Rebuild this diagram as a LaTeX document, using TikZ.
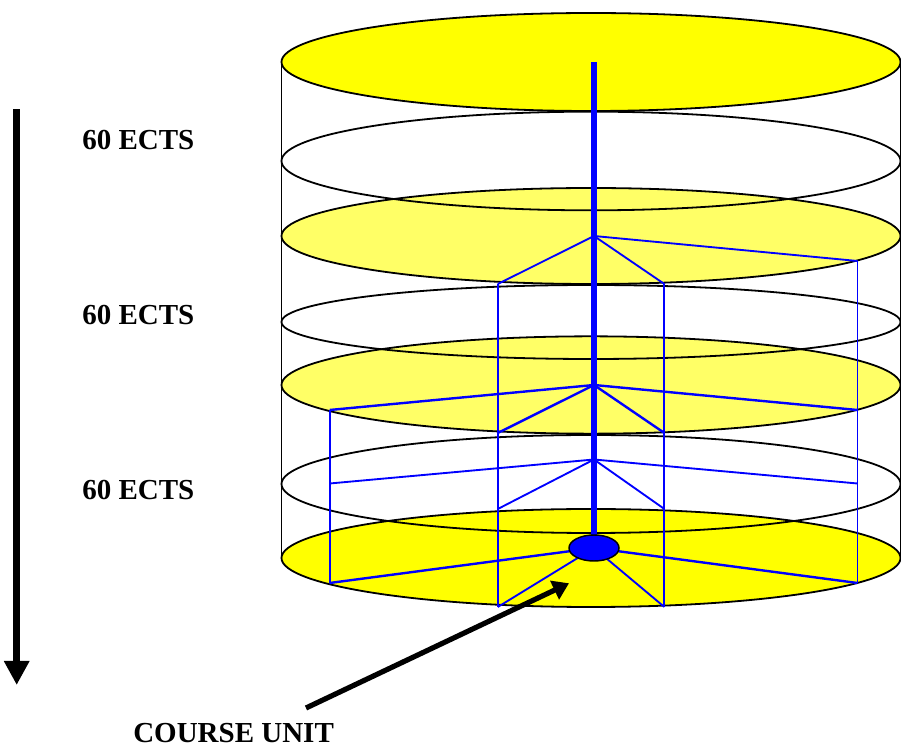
\documentclass[tikz,border=0pt]{standalone}
\usepackage{fontspec}
\setmainfont{Liberation Serif}
\usetikzlibrary{arrows.meta}
\definecolor{yel}{RGB}{255,255,0}
\definecolor{lyel}{RGB}{255,255,102}
\definecolor{pblue}{RGB}{0,0,255}
\tikzset{
  disc/.style={draw=black, line width=1.35pt},
  bthin/.style={draw=pblue, line width=1.4pt},
  bmid/.style={draw=pblue, line width=1.8pt},
  lbl/.style={anchor=base west, inner sep=0pt, text depth=0pt, font=\bfseries\fontsize{21.75}{24}\selectfont},
}
\begin{document}
\begin{tikzpicture}[x=0.75pt,y=-0.75pt]
\useasboundingbox (0,0) rectangle (901,748);
\clip (0,0) rectangle (901,748);
% fills
\fill[yel]  (591,62)  ellipse [x radius=232.125pt, y radius=36.75pt];
\fill[white](591,161) ellipse [x radius=232.125pt, y radius=37pt];
\fill[lyel] (591,236) ellipse [x radius=232.125pt, y radius=36pt];
\fill[white](591,322) ellipse [x radius=232.125pt, y radius=27.75pt];
\fill[lyel] (591,385) ellipse [x radius=232.125pt, y radius=36.5pt];
\fill[white](591,484) ellipse [x radius=232.125pt, y radius=36.75pt];
\fill[yel]  (591,558) ellipse [x radius=232.125pt, y radius=36.75pt];
% cylinder sides
\draw[disc] (281.5,62) -- (281.5,558);
\draw[disc] (900.5,62) -- (900.5,558);
% outlines
\draw[disc] (591,62)  ellipse [x radius=232.125pt, y radius=36.75pt];
\draw[disc] (591,161) ellipse [x radius=232.125pt, y radius=37pt];
\draw[disc] (591,236) ellipse [x radius=232.125pt, y radius=36pt];
\draw[disc] (591,322) ellipse [x radius=232.125pt, y radius=27.75pt];
\draw[disc] (591,385) ellipse [x radius=232.125pt, y radius=36.5pt];
\draw[disc] (591,484) ellipse [x radius=232.125pt, y radius=36.75pt];
\draw[disc] (591,558) ellipse [x radius=232.125pt, y radius=36.75pt];
% blue structure coordinates
\coordinate (A3) at (594,236);
\coordinate (A5) at (594,385);
\coordinate (A6) at (594,459.5);
\coordinate (A7) at (594,548);
\coordinate (IL3) at (497.8,284);
\coordinate (IR3) at (664.4,284);
\coordinate (R3) at (857.5,261);
\coordinate (L5) at (329.6,410);
\coordinate (IL5) at (497.8,433);
\coordinate (IR5) at (664.4,433);
\coordinate (R5) at (857.5,410);
\coordinate (L6) at (329.6,483.5);
\coordinate (IL6) at (497.8,509);
\coordinate (IR6) at (664.4,509);
\coordinate (R6) at (857.5,483.5);
\coordinate (L7) at (329.6,583);
\coordinate (IL7) at (497.8,607);
\coordinate (IR7) at (664.4,607);
\coordinate (R7) at (857.5,583);
\coordinate (Top) at (594,62);
\coordinate (Bot) at (594,537);
% columns
\draw[bthin] (IL3) -- (IL7);
\draw[bthin] (IR3) -- (IR7);
\draw[bthin] (R3) -- (R7);
\draw[bthin] (L5) -- (L7);
% spokes
\draw[bthin] (A3) -- (IL3);
\draw[bthin] (A3) -- (IR3);
\draw[bthin] (A3) -- (R3);
\draw[bmid] (A5) -- (L5);
\draw[bmid] (A5) -- (IL5);
\draw[bmid] (A5) -- (IR5);
\draw[bmid] (A5) -- (R5);
\draw[bthin] (A6) -- (L6);
\draw[bthin] (A6) -- (IL6);
\draw[bthin] (A6) -- (IR6);
\draw[bthin] (A6) -- (R6);
\draw[bmid] (A7) -- (L7);
\draw[bthin] (A7) -- (IL7);
\draw[bthin] (A7) -- (IR7);
\draw[bmid] (A7) -- (R7);
% central axis
\draw[pblue, line width=3.9pt] (Top) -- (Bot);
% course unit disc
\draw[fill=pblue, draw=black, line width=1.1pt] (A7) ellipse [x radius=18.75pt, y radius=9.75pt];
% left time arrow
\coordinate (T1) at (16.7,109.5);
\coordinate (T2) at (16.7,685);
\draw[line width=5.5pt, -{Triangle[length=18pt,width=18pt]}] (T1) -- (T2);
% labels
\node[lbl] (e1) at (82,149.3) {60 ECTS};
\node[lbl] (e2) at (82,324.7) {60 ECTS};
\node[lbl] (e3) at (82,499.7) {60 ECTS};
\node[lbl] (cu) at (133,743) {COURSE UNIT};
% course unit arrow
\coordinate (C1) at (306,708);
\coordinate (C2) at (569,583.3);
\draw[line width=3.9pt, -{Triangle[length=12pt,width=15pt]}] (C1) -- (C2);
\end{tikzpicture}
\end{document}
